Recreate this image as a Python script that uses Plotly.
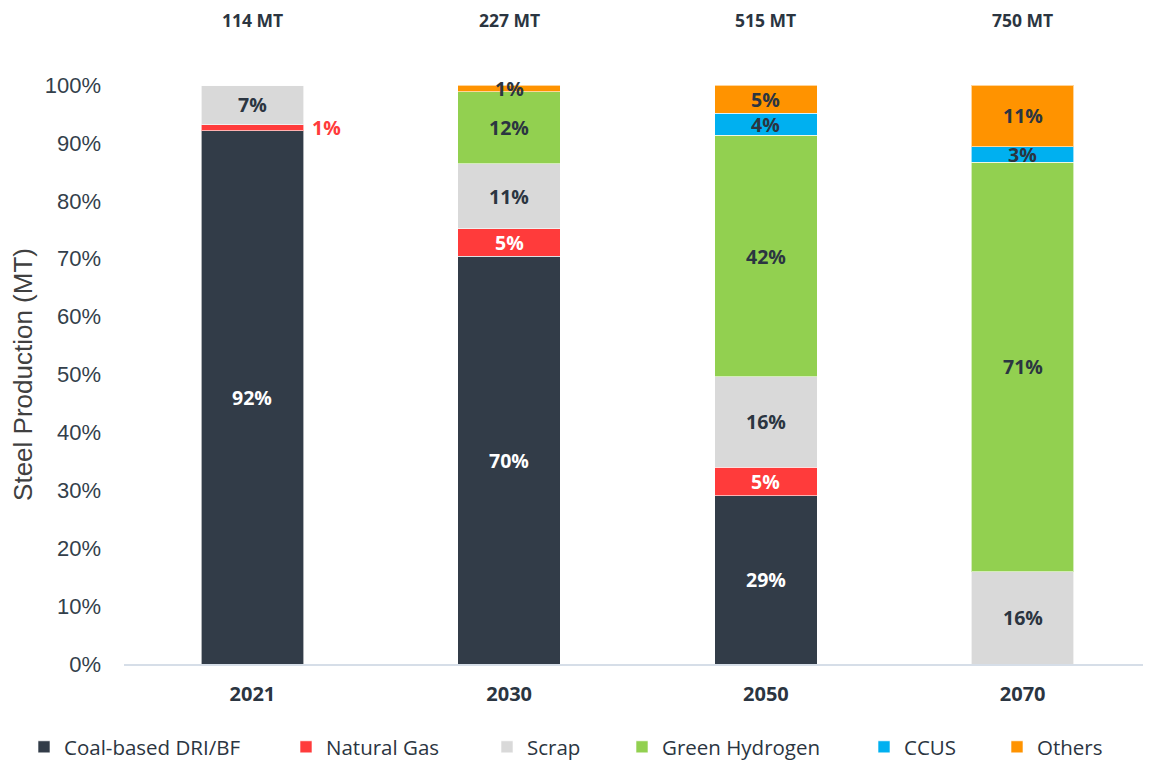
import plotly.graph_objects as go

years = ["2021", "2030", "2050", "2070"]
totals = ["114 MT", "227 MT", "515 MT", "750 MT"]

series_names = ["Coal-based DRI/BF", "Natural Gas", "Scrap", "Green Hydrogen", "CCUS", "Others"]
coal = [92.1, 70.4, 29.1, 0]
natural_gas = [1.0, 4.8, 4.9, 0]
scrap = [6.9, 11.2, 15.6, 15.9]
green_h2 = [0, 12.4, 41.7, 70.8]
ccus = [0, 0, 3.8, 2.6]
others = [0, 1.2, 4.9, 10.7]

y_ticks = list(range(0, 101, 10))
y_tick_text = [f"{t}%" for t in y_ticks]

colors = ["#323C48", "#FF3B3B", "#D9D9D9", "#92D050", "#00B0F0", "#FF9300"]
label_colors = ["#FFFFFF", "#FFFFFF", "#2B3541", "#2B3541", "#2B3541", "#2B3541"]

all_series = [coal, natural_gas, scrap, green_h2, ccus, others]

# The page body adds an 8px offset; figure coordinates are window coordinates minus 8.
OFF = 8
legend_px = [42, 304, 505, 640, 882, 1015]  # marker left edges in the window
W, H = 1151 - OFF, 761 - OFF
L, T = 124 - OFF, 85 - OFF
R = 0
pw = W - L - R
ph = 579
B = H - T - ph

fig = go.Figure()
layout_legends = {}
for k, (name, vals, col) in enumerate(zip(series_names, all_series, colors)):
    key = "legend" if k == 0 else f"legend{k+1}"
    fig.add_trace(go.Bar(
        x=years, y=vals, name=name,
        marker=dict(color=col, line=dict(color="rgba(255,255,255,0.6)", width=1)),
        width=0.4, hoverinfo="skip", legend=key,
    ))
    box_left = legend_px[k] - OFF - 18
    layout_legends[key] = dict(
        x=(box_left - L) / pw, xanchor="left",
        y=-(747 - 664) / ph, yanchor="middle",
        bgcolor="rgba(0,0,0,0)", itemwidth=30,
        font=dict(family="Open Sans, Noto Sans, sans-serif", size=20.5, color="#2B3541"),
    )

label_font = "Open Sans, Noto Sans, sans-serif"
annotations = []
for i, yr in enumerate(years):
    cum = 0
    for s, (vals, lc) in enumerate(zip(all_series, label_colors)):
        v = vals[i]
        if v <= 0:
            continue
        mid = cum + v / 2
        txt = f"{round(v):d}%"
        if s == 1 and yr == "2021":
            annotations.append(dict(x=i, y=mid, xref="x", yref="y", text=txt, showarrow=False,
                                    xanchor="left", xshift=58,
                                    font=dict(family=label_font, size=19.5, color="#FF3B3B", weight="bold")))
        else:
            annotations.append(dict(x=i, y=mid, xref="x", yref="y", text=txt, showarrow=False,
                                    font=dict(family=label_font, size=19.5, color=lc, weight="bold")))
        cum += v
    annotations.append(dict(x=i, y=1 + (85 - 20) / ph, xref="x", yref="paper", yanchor="middle",
                            text=totals[i], showarrow=False,
                            font=dict(family=label_font, size=17.5, color="#2B3541", weight="bold")))

fig.update_layout(
    width=W, height=H,
    barmode="stack",
    plot_bgcolor="white", paper_bgcolor="white",
    margin=dict(l=L, r=R, t=T, b=B, autoexpand=False),
    annotations=annotations,
    showlegend=True,
    yaxis=dict(range=[0, 100], tickmode="array", tickvals=y_ticks, ticktext=y_tick_text, showgrid=False,
               zeroline=False, tickfont=dict(family="Liberation Sans, Arial", size=22, color="#333F4B"),
               ticklabelstandoff=22,
               title=dict(text="Steel Production (MT)",
                          font=dict(family="Liberation Sans, Arial", size=26, color="#404040"), standoff=10)),
    xaxis=dict(type="category", range=[-0.5, 3.5], showline=True, linecolor="#D6DEE8", linewidth=2,
               tickfont=dict(family=label_font, size=20, color="#2B3541", weight="bold"),
               ticklabelstandoff=11),
    **layout_legends,
)

fig.write_html("out.html")
